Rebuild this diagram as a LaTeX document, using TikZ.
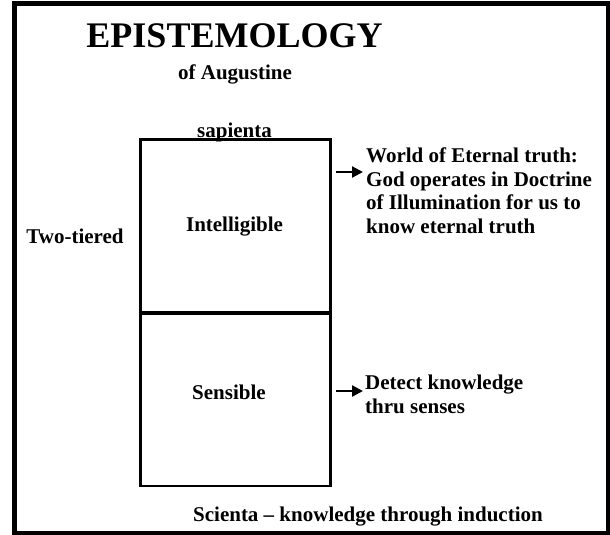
\documentclass[tikz,border=0pt]{standalone}
\usepackage{fontspec}
\setmainfont{Liberation Serif}
\usetikzlibrary{arrows.meta}
\begin{document}
\begin{tikzpicture}[x=1pt,y=-1pt,
  lbl/.style={font=\bfseries\fontsize{21}{23.5}\selectfont, inner sep=0pt},
  tier/.style={draw, line width=2.4pt, minimum width=190pt, inner sep=0pt},
  pointer/.style={-{Triangle[length=11pt,width=11pt]}, line width=2.3pt}]
\useasboundingbox (0,0) rectangle (610,535);
% outer frame
\draw[line width=5pt] (14.5,3.5) rectangle (608,533);

% the two tiers
\node[tier, minimum height=173pt] (intel) at (235.5,226) {};
\node[tier, minimum height=173.5pt] (sens) at (235.5,399.25) {};
\draw[line width=3.3pt] (intel.south west) -- (intel.south east);

% headings
\node[font=\bfseries\fontsize{36}{40}\selectfont, inner sep=0pt, anchor=base] (title) at (234.5,47.5) {EPISTEMOLOGY};
\node[lbl, anchor=base] (sub) at (235,79) {of Augustine};
\node[lbl, anchor=base] (sap) at (234.5,137) {sapienta};

% labels (multi-line nodes are placed by the baseline of their last line)
\node[lbl, anchor=base] (intl) at (234.5,231) {Intelligible};
\node[lbl, anchor=base] (sensl) at (229,399) {Sensible};
\node[lbl, anchor=base] (two) at (75,243) {Two-tiered};
\node[lbl, anchor=base west, align=left] (world) at (366,233)
  {World of Eternal truth:\\God operates in Doctrine\\of Illumination for us to\\know eternal truth};
\node[lbl, anchor=base west, align=left] (detect) at (365,413)
  {Detect knowledge\\thru senses};
\node[lbl, anchor=base] (sci) at (368,521.5) {Scienta -- knowledge through induction};

% pointers
\coordinate (w0) at (336,172);
\coordinate (w1) at (363,172);
\coordinate (d0) at (336,391);
\coordinate (d1) at (363,391);
\draw[pointer] (w0) -- (w1);
\draw[pointer] (d0) -- (d1);
\end{tikzpicture}
\end{document}
